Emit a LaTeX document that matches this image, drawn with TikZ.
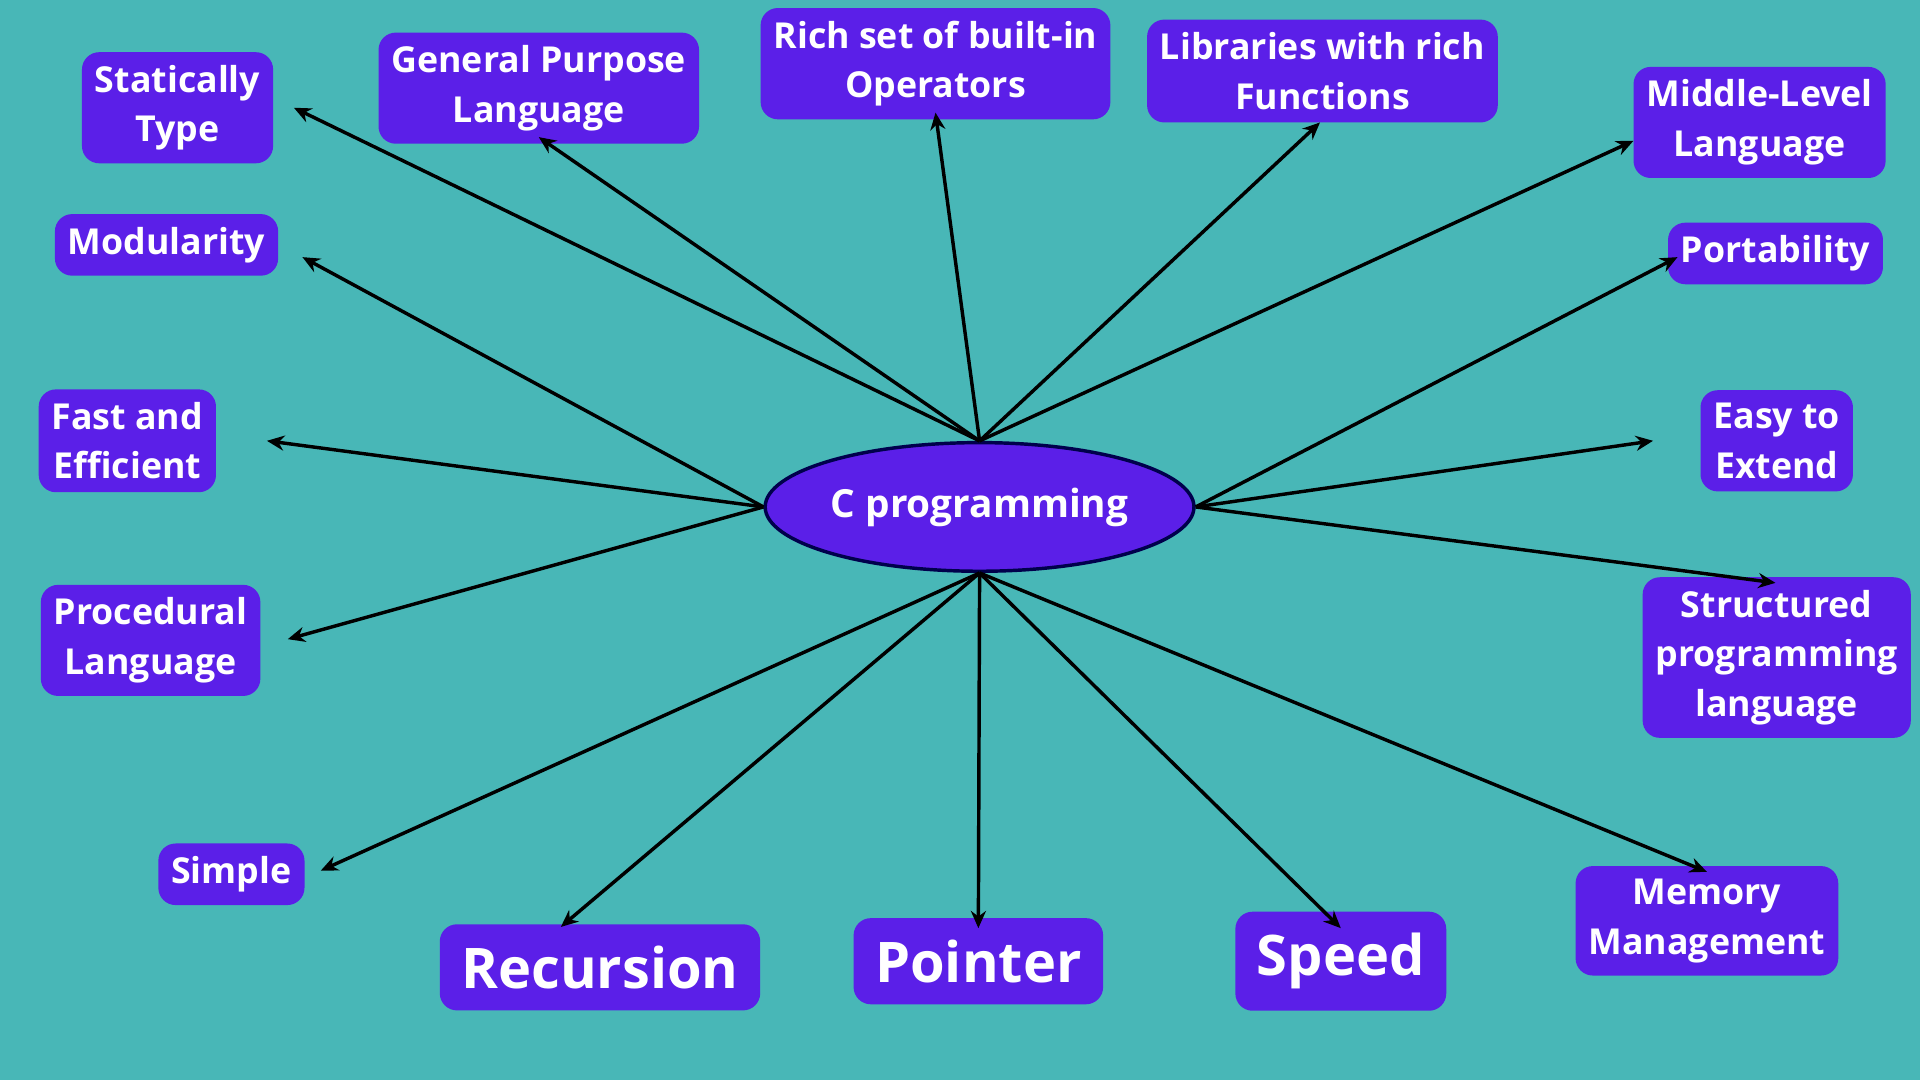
\documentclass[tikz,border=0pt]{standalone}
\usepackage{fontspec}
\setmainfont{Open Sans}
\usetikzlibrary{arrows.meta,shapes.geometric}
\definecolor{bgteal}{HTML}{48B7B7}
\definecolor{boxpurple}{HTML}{5B1FE8}
\tikzset{
  feat/.style={fill=boxpurple,text=white,rounded corners=4pt,align=center,
    font=\fontsize{8.3}{11.5}\selectfont\bfseries,inner sep=3pt},
  bigfeat/.style={feat,font=\fontsize{13}{15}\selectfont\bfseries,inner sep=5pt},
  link/.style={-{Stealth[length=4pt,width=3.5pt]},line width=0.8pt,black}
}
\begin{document}
\begin{tikzpicture}[x=0.01cm,y=-0.01cm]
            \fill[bgteal] (0,0) rectangle (1568,882);
            \useasboundingbox (0,0) rectangle (1568,882);
            \node[ellipse,draw=black!70!blue,line width=0.8pt,fill=boxpurple,text=white,inner sep=0pt,
              minimum width=3.5cm,minimum height=1.05cm,font=\fontsize{9}{12}\selectfont\bfseries] (c) at (800,414) {C programming};
            \node[feat] (stat) at (145,88) {Statically\\Type};
            \node[feat] (gen) at (440,72) {General Purpose\\Language};
            \node[feat] (rich) at (764,52) {Rich set of built-in\\Operators};
            \node[feat] (lib) at (1080,58) {Libraries with rich\\Functions};
            \node[feat] (mid) at (1437,100) {Middle-Level\\Language};
            \node[feat] (mod) at (136,200) {Modularity};
            \node[feat] (port) at (1450,207) {Portability};
            \node[feat] (fast) at (104,360) {Fast and\\Efficient};
            \node[feat] (easy) at (1451,360) {Easy to\\Extend};
            \node[feat] (proc) at (123,523) {Procedural\\Language};
            \node[feat] (struc) at (1451,537) {Structured\\programming\\language};
            \node[feat] (simp) at (189,714) {Simple};
            \node[feat] (mem) at (1394,752) {Memory\\Management};
            \node[bigfeat] (rec) at (490,790) {Recursion};
            \node[bigfeat] (ptr) at (799,785) {Pointer};
            \node[bigfeat] (spd) at (1095,785) {Speed};
            % arrow ends
            \coordinate (e1) at (240,88);
            \coordinate (e2) at (440,112);
            \coordinate (e3) at (764,92);
            \coordinate (e4) at (1078,100);
            \coordinate (e5) at (1334,115);
            \coordinate (e6) at (247,210);
            \coordinate (e7) at (1370,210);
            \coordinate (e8) at (218,360);
            \coordinate (e9) at (1350,360);
            \coordinate (e10) at (235,522);
            \coordinate (e11) at (1450,476);
            \coordinate (e12) at (262,711);
            \coordinate (e13) at (458,757);
            \coordinate (e14) at (799,758);
            \coordinate (e15) at (1095,758);
            \coordinate (e16) at (1394,712);
            \foreach \e in {e1,e2,e3,e4,e5}
              \draw[link] (c.north) -- (\e);
            \foreach \e in {e6,e8,e10}
              \draw[link] (c.west) -- (\e);
            \foreach \e in {e7,e9,e11}
              \draw[link] (c.east) -- (\e);
            \foreach \e in {e12,e13,e14,e15,e16}
              \draw[link] (c.south) -- (\e);
        \end{tikzpicture}
\end{document}
